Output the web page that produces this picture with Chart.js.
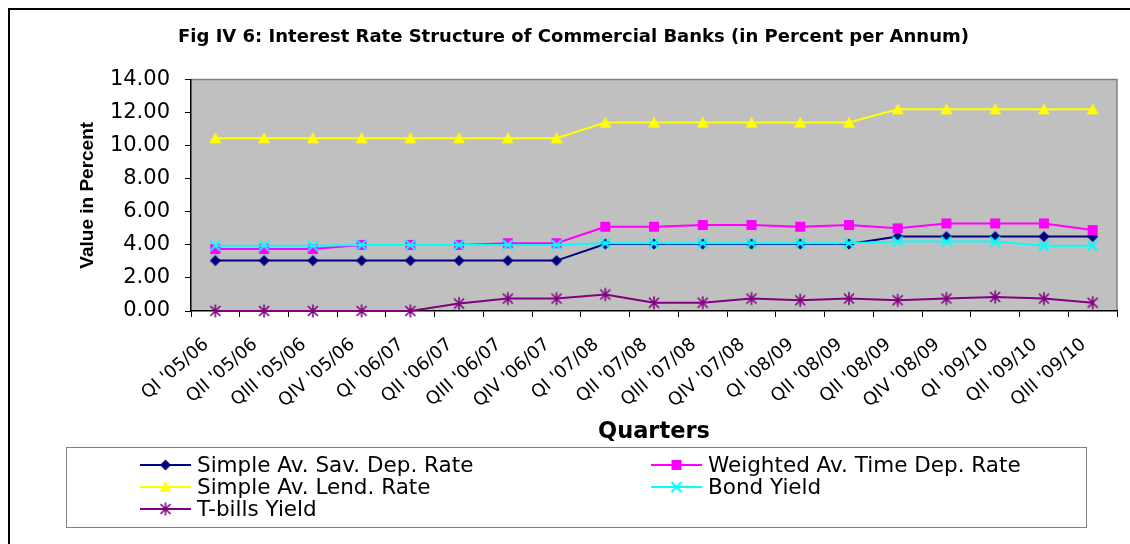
<!DOCTYPE html>
<html>
<head>
<meta charset="utf-8">
<script src="https://cdn.jsdelivr.net/npm/chart.js@4/dist/chart.umd.min.js"></script>
<style>
  html, body { margin: 0; background: #fff; }
  #wrap { width: 1130px; height: 544px; position: relative; }
</style>
</head>
<body>
<div id="wrap"><canvas id="chart"></canvas></div>
<script>
const quarters = ["QI '05/06", "QII '05/06", "QIII '05/06", "QIV '05/06",
  "QI '06/07", "QII '06/07", "QIII '06/07", "QIV '06/07",
  "QI '07/08", "QII '07/08", "QIII '07/08", "QIV '07/08",
  "QI '08/09", "QII '08/09", "QII '08/09", "QIV '08/09",
  "QI '09/10", "QII '09/10", "QIII '09/10"];

const savDepRate = [3.05, 3.05, 3.05, 3.05, 3.05, 3.05, 3.05, 3.05,
  4.05, 4.05, 4.05, 4.05, 4.05, 4.05, 4.5, 4.5, 4.5, 4.5, 4.5];
const timeDepRate = [3.75, 3.75, 3.75, 4.0, 4.0, 4.0, 4.1, 4.1,
  5.1, 5.1, 5.2, 5.2, 5.1, 5.2, 5.0, 5.3, 5.3, 5.3, 4.9];
const lendRate = [10.45, 10.45, 10.45, 10.45, 10.45, 10.45, 10.45, 10.45,
  11.4, 11.4, 11.4, 11.4, 11.4, 11.4, 12.2, 12.2, 12.2, 12.2, 12.2];
const bondYield = [3.95, 3.95, 3.95, 4.0, 4.0, 4.0, 4.0, 4.0,
  4.1, 4.1, 4.1, 4.1, 4.1, 4.1, 4.2, 4.2, 4.2, 3.95, 3.95];
const tbillsYield = [0, 0, 0, 0, 0, 0.45, 0.75, 0.75,
  1.0, 0.5, 0.5, 0.75, 0.65, 0.75, 0.65, 0.75, 0.85, 0.75, 0.5];

const yTicks = [0, 2, 4, 6, 8, 10, 12, 14];

// Excel-like markers drawn once into small canvases
function makeMarker(shape, color) {
  const c = document.createElement('canvas');
  c.width = 16; c.height = 16;
  const g = c.getContext('2d');
  g.translate(8, 8);
  g.fillStyle = color;
  g.strokeStyle = color;
  g.beginPath();
  if (shape === 'diamond') {
    g.moveTo(0, -5.5); g.lineTo(5.5, 0); g.lineTo(0, 5.5); g.lineTo(-5.5, 0);
    g.closePath(); g.fill();
  } else if (shape === 'square') {
    g.rect(-5, -5, 10, 10); g.fill();
  } else if (shape === 'triangle') {
    g.moveTo(0, -6); g.lineTo(6, 5); g.lineTo(-6, 5);
    g.closePath(); g.fill();
  } else if (shape === 'x') {
    g.lineWidth = 2;
    g.moveTo(-5, -5); g.lineTo(5, 5); g.moveTo(5, -5); g.lineTo(-5, 5);
    g.stroke();
  } else if (shape === 'star') {
    g.lineWidth = 1.6;
    g.moveTo(0, -6.5); g.lineTo(0, 6.5);
    g.moveTo(-5, -5); g.lineTo(5, 5); g.moveTo(5, -5); g.lineTo(-5, 5);
    g.stroke();
  }
  return c;
}

const series = [
  { label: 'Simple Av. Sav. Dep. Rate', data: savDepRate, color: '#000080', shape: 'diamond', order: 5 },
  { label: 'Weighted Av. Time Dep. Rate', data: timeDepRate, color: '#ff00ff', shape: 'square', order: 4 },
  { label: 'Simple Av. Lend. Rate', data: lendRate, color: '#ffff00', shape: 'triangle', order: 3 },
  { label: 'Bond Yield', data: bondYield, color: '#00ffff', shape: 'x', order: 2 },
  { label: 'T-bills Yield', data: tbillsYield, color: '#800080', shape: 'star', order: 1 }
];

const backdrop = {
  id: 'backdrop',
  beforeDraw(chart) {
    const { ctx, chartArea: a } = chart;
    ctx.save();
    ctx.fillStyle = '#fff';
    ctx.fillRect(0, 0, chart.width, chart.height);
    ctx.strokeStyle = '#000';
    ctx.lineWidth = 2;
    ctx.beginPath();
    ctx.moveTo(9, chart.height); ctx.lineTo(9, 9); ctx.lineTo(chart.width, 9);
    ctx.stroke();
    ctx.fillStyle = '#c0c0c0';
    ctx.fillRect(a.left, a.top, a.width, a.height);
    ctx.strokeStyle = '#808080';
    ctx.lineWidth = 1.5;
    ctx.beginPath();
    ctx.moveTo(a.left, a.top); ctx.lineTo(a.right, a.top); ctx.lineTo(a.right, a.bottom);
    ctx.stroke();
    ctx.restore();
  }
};

// legend box like the Excel one: two columns, three rows
const boxLegend = {
  id: 'boxLegend',
  afterDraw(chart) {
    const { ctx } = chart;
    const cols = [140, 651];
    const rows = [465, 487, 509];
    ctx.save();
    ctx.strokeStyle = '#808080';
    ctx.lineWidth = 1;
    ctx.strokeRect(66.5, 447.5, 1020, 80);
    ctx.font = '21.5px "DejaVu Sans"';
    ctx.textBaseline = 'middle';
    ctx.fillStyle = '#000';
    chart.data.datasets.forEach((ds, i) => {
      const x = cols[i % 2];
      const y = rows[Math.floor(i / 2)];
      ctx.strokeStyle = ds.borderColor;
      ctx.lineWidth = 2;
      ctx.beginPath();
      ctx.moveTo(x, y); ctx.lineTo(x + 51, y);
      ctx.stroke();
      const m = ds.pointStyle;
      ctx.drawImage(m, x + 25.5 - m.width / 2, y - m.height / 2);
      ctx.fillText(ds.label, x + 57, y + 1);
    });
    ctx.restore();
  }
};

Chart.defaults.font.family = '"DejaVu Sans", sans-serif';
Chart.defaults.color = '#000';

new Chart(document.getElementById('chart'), {
  type: 'line',
  data: {
    labels: quarters,
    datasets: series.map(s => ({
      label: s.label,
      data: s.data,
      borderColor: s.color,
      backgroundColor: s.color,
      borderWidth: 2,
      pointStyle: makeMarker(s.shape, s.color),
      pointRadius: 6,
      tension: 0,
      clip: false,
      order: s.order
    }))
  },
  options: {
    responsive: true,
    maintainAspectRatio: false,
    animation: false,
    layout: { padding: { top: 0, left: 30, right: 13, bottom: 98 } },
    plugins: {
      legend: { display: false },
      tooltip: { enabled: false },
      title: {
        display: true,
        text: 'Fig IV 6: Interest Rate Structure of Commercial Banks (in Percent per Annum)',
        font: { size: 18, weight: 'bold' },
        color: '#000',
        padding: { top: 27, bottom: 31 }
      }
    },
    scales: {
      x: {
        offset: true,
        afterFit(scale) { scale.height = 135; },
        grid: { offset: true, drawOnChartArea: false, tickLength: 6, color: '#000' },
        border: { color: '#000', width: 1.5 },
        ticks: {
          autoSkip: false, maxRotation: 41, minRotation: 41,
          padding: 17, labelOffset: -9, font: { size: 18 }
        },
        title: { display: true, text: 'Quarters', font: { size: 22.5, weight: 'bold' }, padding: 0 }
      },
      y: {
        min: 0,
        max: 14,
        afterFit(scale) { scale.width = 161; },
        afterBuildTicks(scale) { scale.ticks = yTicks.map(v => ({ value: v })); },
        grid: { drawOnChartArea: false, tickLength: 6, color: '#000' },
        border: { color: '#000', width: 1.5 },
        ticks: { padding: 15, font: { size: 21 }, callback: v => v.toFixed(2) },
        title: {
          display: true,
          text: 'Value in Percent',
          font: { family: '"Liberation Sans", Arial, sans-serif', size: 19, weight: 'bold' },
          padding: { top: 46, bottom: 0 }
        }
      }
    }
  },
  plugins: [backdrop, boxLegend]
});
</script>
</body>
</html>
